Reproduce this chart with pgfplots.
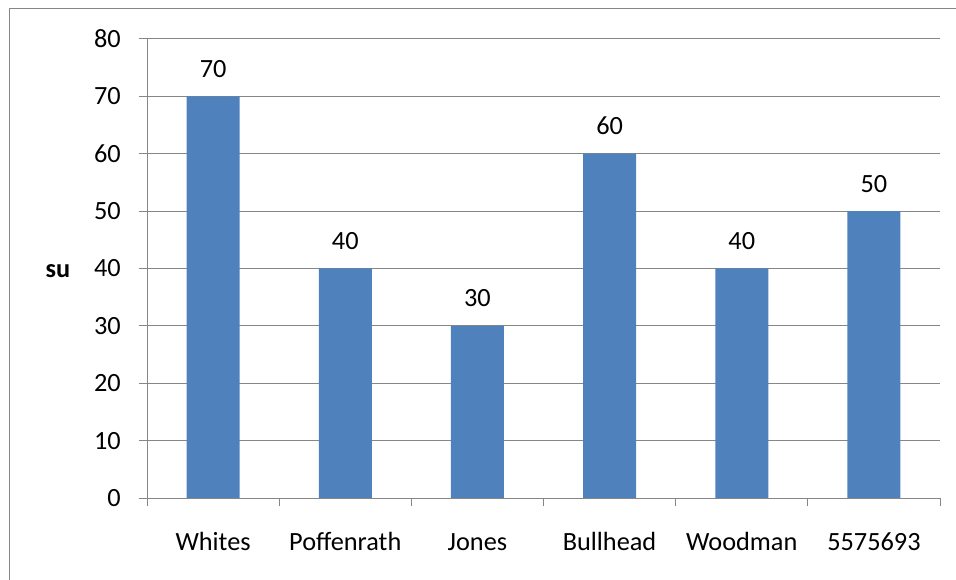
\documentclass[border=0pt]{standalone}
\usepackage{pgfplots}
\pgfplotsset{compat=1.18}
\usepackage{fontspec}
\setmainfont{Carlito}
\definecolor{barblue}{HTML}{4F81BD}
\definecolor{gridgray}{HTML}{868686}
\begin{document}
\fontsize{26.4}{31}\selectfont
\begin{tikzpicture}
\path[use as bounding box] (0,0) rectangle (956bp,580bp);
% outer frame of the chart area
\draw[gridgray, line width=1bp] (960bp,571bp) -- (9bp,571bp) -- (9bp,-4bp);
\begin{axis}[
  at={(147bp,82bp)}, anchor=south west,
  scale only axis, width=793bp, height=459bp,
  xmin=-0.5, xmax=5.5, ymin=0, ymax=80,
  ybar, bar width=53bp,
  axis lines*=left,
  axis line style={gridgray, line width=1bp},
  ymajorgrids, grid style={gridgray, line width=1bp},
  ytick={0,10,...,80},
  xtick={0,...,5},
  xticklabels={Whites,Poffenrath,Jones,Bullhead,Woodman,5575693},
  minor xtick={-0.5,0.5,...,5.5},
  tick align=outside,
  major tick length=8bp, minor tick length=8bp,
  major x tick style={draw=none},
  minor x tick style={gridgray, line width=1bp},
  y tick style={gridgray, line width=1bp},
  /pgf/number format/assume math mode=true,
  yticklabel style={anchor=east, inner sep=0pt, xshift=-18bp},
  xticklabel style={anchor=base, inner sep=0pt, yshift=-44bp},
  ylabel={\bfseries su},
  every axis y label/.style={at={(rel axis cs:0,0.5)}, anchor=center, xshift=-89bp, yshift=-2.5bp},
  nodes near coords,
  every node near coord/.append style={anchor=base, yshift=19bp, black},
]
\addplot[fill=barblue, draw=none] coordinates {(0,70) (1,40) (2,30) (3,60) (4,40) (5,50)};
\end{axis}
\end{tikzpicture}
\end{document}
